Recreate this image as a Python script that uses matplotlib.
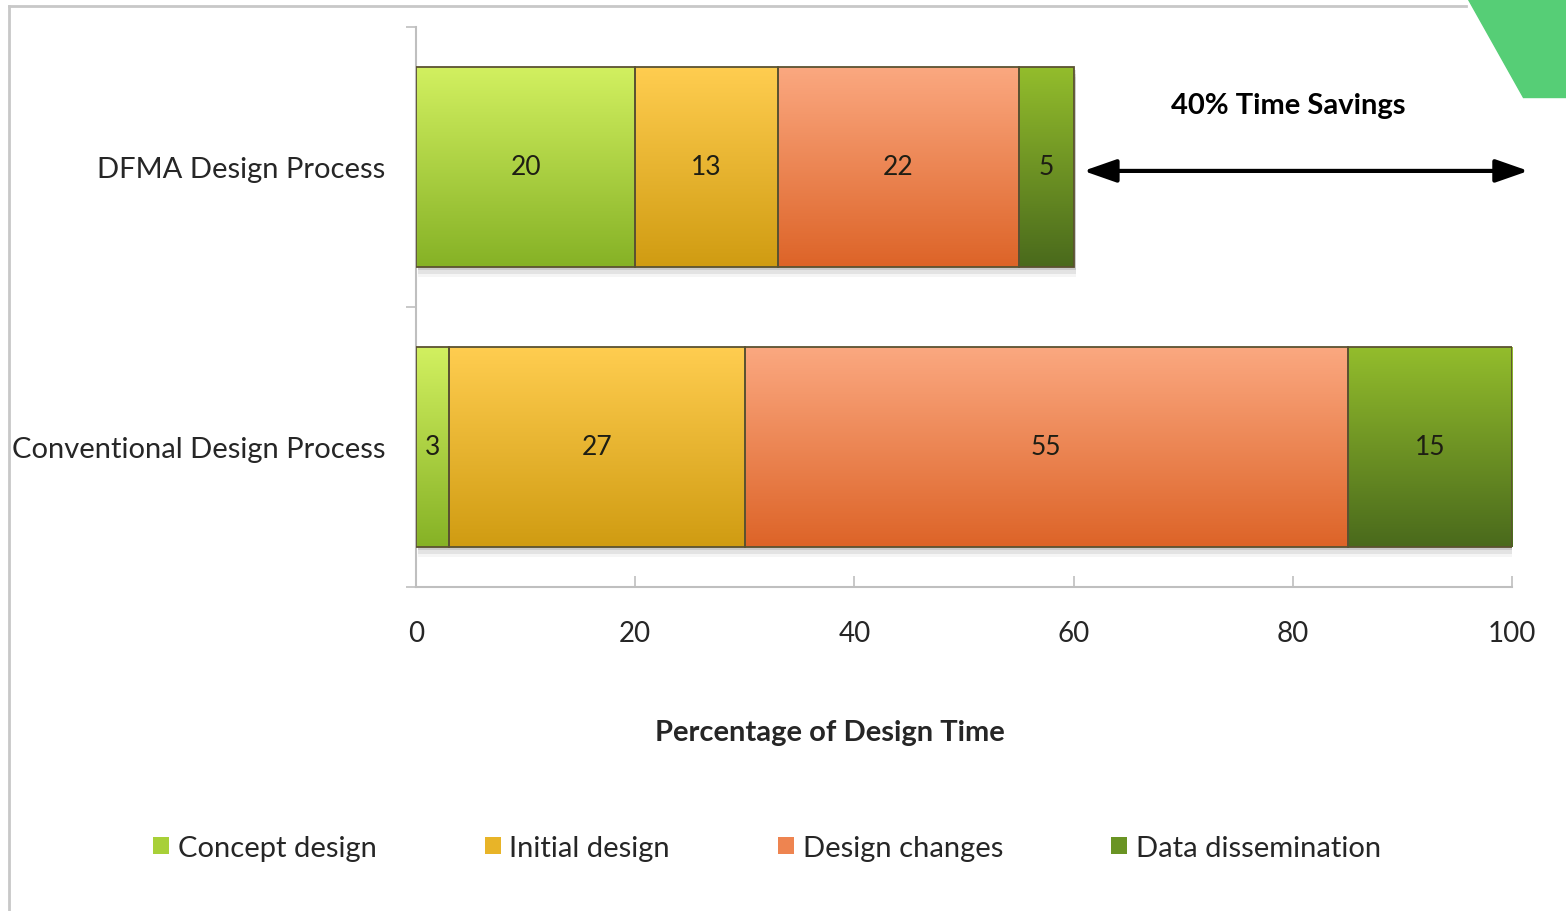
import numpy as np
import matplotlib.pyplot as plt
from matplotlib.colors import LinearSegmentedColormap
from matplotlib.patches import Patch, Polygon, Rectangle
from matplotlib.lines import Line2D

# Data
categories = ["Conventional Design Process", "DFMA Design Process"]
series_names = ["Concept design", "Initial design", "Design changes", "Data dissemination"]
concept = [3, 20]
initial = [27, 13]
changes = [55, 22]
dissemination = [15, 5]
series_values = [concept, initial, changes, dissemination]
x_ticks = [0, 20, 40, 60, 80, 100]

# gradient colours (top, bottom) per series
grad = [("#d2f060", "#86b226"),
        ("#ffcd50", "#d09c12"),
        ("#fba880", "#dd6428"),
        ("#93bd2c", "#4a6a1c")]
legend_cols = ["#a8d038", "#e8b428", "#ee8450", "#6a9424"]

plt.rcParams['font.family'] = ['Lato', 'DejaVu Sans']

W, H = 1566, 912
fig = plt.figure(figsize=(W / 100, H / 100), dpi=100)


def fx(px):
    return px / W


def fy(py):
    return 1 - py / H


ax = fig.add_axes([fx(416), fy(588), fx(1512) - fx(416), fy(28) - fy(588)])
ax.set_xlim(0, 100)
ax.set_ylim(-0.5, 1.5)

bar_h = 0.715
y_pos = np.arange(len(categories))
left = np.zeros(len(categories))

# soft shadow under the bars
for i in range(len(categories)):
    total = sum(v[i] for v in series_values)
    for k, a in enumerate([0.10, 0.07, 0.04]):
        ax.add_patch(Rectangle((0.2, y_pos[i] - bar_h / 2 - 0.012 * (k + 1)), total,
                               bar_h, color="black", alpha=a, lw=0, zorder=1))

for s, vals in enumerate(series_values):
    cmap = LinearSegmentedColormap.from_list("g%d" % s, [grad[s][1], grad[s][0]])
    bars = ax.barh(y_pos, vals, left=left, height=bar_h, color="none",
                   edgecolor="#5b5231", linewidth=1.3, zorder=3)
    for b, v in zip(bars, vals):
        x0, y0 = b.get_x(), b.get_y()
        img = ax.imshow(np.linspace(0, 1, 100).reshape(-1, 1), cmap=cmap,
                        extent=[x0, x0 + v, y0, y0 + b.get_height()],
                        origin="lower", aspect="auto", zorder=2)
        img.set_clip_path(b)
        ax.text(x0 + v / 2, y0 + b.get_height() / 2, str(v), ha="center", va="center",
                fontsize=19, color="#1e1e14", zorder=4)
    left = left + np.array(vals)

ax.set_xlim(0, 100)
ax.set_ylim(-0.5, 1.5)

for sp in ["top", "right"]:
    ax.spines[sp].set_visible(False)
for sp in ["left", "bottom"]:
    ax.spines[sp].set_color("#bfbfbf")
    ax.spines[sp].set_linewidth(1.5)

ax.set_xticks(x_ticks)
ax.set_xticklabels([str(t) for t in x_ticks])
ax.tick_params(axis="x", direction="in", length=8, width=1.2, color="#bfbfbf",
               labelsize=20, labelcolor="#262626", pad=24)
ax.set_yticks(y_pos)
ax.set_yticklabels(categories)
ax.tick_params(axis="y", which="major", length=0, labelsize=21, labelcolor="#262626", pad=22)
ax.set_yticks([-0.5, 0.5, 1.5], minor=True)
ax.tick_params(axis="y", which="minor", direction="out", length=7, width=1.2, color="#bfbfbf")

# annotation: double arrow and text
ax.annotate("", xy=(101.5, 0.986), xytext=(60.9, 0.986),
            arrowprops=dict(arrowstyle="<|-|>,head_length=1.0,head_width=0.35",
                            color="black", lw=3, mutation_scale=20,
                            shrinkA=0, shrinkB=0), annotation_clip=False)
ax.text(79.6, 1.221, "40% Time Savings", ha="center", va="center",
        fontsize=21, fontweight="bold", color="black", clip_on=False)

fig.text(fx(830), fy(733), "Percentage of Design Time", ha="center", va="center",
         fontsize=21, fontweight="bold", color="#262626")

handles = [Patch(facecolor=c, edgecolor="none") for c in legend_cols]
fig.legend(handles, series_names, loc="center", bbox_to_anchor=(fx(767), fy(849)),
           ncol=4, frameon=False, fontsize=21, handlelength=0.55, handleheight=0.55,
           handletextpad=0.3, columnspacing=3.7, labelcolor="#262626")

# frame lines and green corner
fig.add_artist(Line2D([fx(9), fx(1466)], [fy(7), fy(7)], color="#c8c8c8", lw=2))
fig.add_artist(Line2D([fx(9), fx(9)], [fy(7), fy(912)], color="#c8c8c8", lw=2))
fig.add_artist(Polygon([(fx(1468), fy(0)), (fx(1566), fy(0)), (fx(1566), fy(98)),
                        (fx(1523), fy(98))], closed=True, color="#56ce76",
                       transform=fig.transFigure))

fig.savefig("out.png", dpi=100)
